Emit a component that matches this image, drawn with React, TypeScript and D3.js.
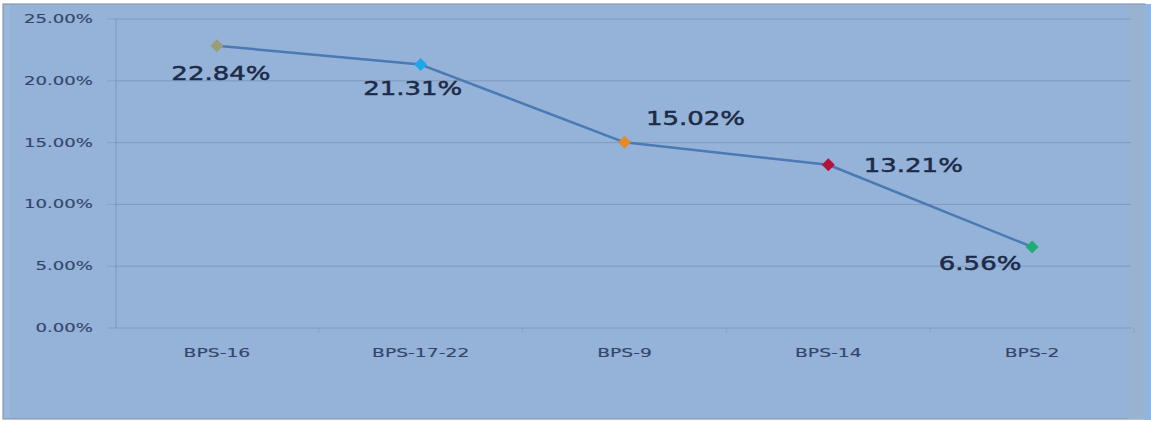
import React from "react";
import * as d3 from "d3";

const categories = ["BPS-16", "BPS-17-22", "BPS-9", "BPS-14", "BPS-2"];
const values = [22.84, 21.31, 15.02, 13.21, 6.56];
const markerColors = ["#9b9c78", "#1fa6ea", "#e48a2a", "#b3123c", "#1fae72"];
const yTicks = [0, 5, 10, 15, 20, 25];
// label placement relative to each point (dx, dy)
const labelOffsets: [number, number][] = [
  [4, 27],
  [-8, 23],
  [71, -25],
  [85, 0],
  [-52, 16],
];

const W = 1151;
const H = 422;
const plot = { left: 115, right: 1134, top: 19, bottom: 328, gridRight: 1131 };

export default function App() {
  const x = d3
    .scalePoint<string>()
    .domain(categories)
    .range([plot.left, plot.right])
    .padding(0.5);
  const step = x.step();
  const y = d3.scaleLinear().domain([0, 25]).range([plot.bottom, plot.top]);
  const line = d3
    .line<number>()
    .x((_, i) => x(categories[i]) as number)
    .y((d) => y(d));

  const fmt = (v: number) => v.toFixed(2) + "%";
  const font = "'DejaVu Sans', Verdana, sans-serif";
  const textColor = "#1d2b48";
  const axisColor = "#33466a";
  const gridColor = "#7d96b8";

  return (
    <div style={{ position: "fixed", left: 0, top: 0, width: W, height: H }}>
      <svg width={W} height={H} style={{ display: "block" }}>
        <rect x={0} y={0} width={W} height={H} fill="#ffffff" />
        <rect x={3} y={4} width={1142} height={415} fill="#95b3d8" stroke="#8c98a8" strokeWidth={1.2} />
        <rect x={1128} y={5} width={17} height={414} fill="#98b2cf" />
        <rect x={1145} y={4} width={6} height={416} fill="#8fb5e4" />
        <rect x={4} y={5} width={6} height={413} fill="#9ab8dc" />

        {/* horizontal gridlines */}
        {yTicks.map((t) => (
          <g key={t}>
            <line
              x1={plot.left}
              x2={plot.gridRight}
              y1={y(t)}
              y2={y(t)}
              stroke={gridColor}
              strokeWidth={1}
              opacity={0.85}
            />
            <line
              x1={plot.left - 8}
              x2={plot.left}
              y1={y(t)}
              y2={y(t)}
              stroke={gridColor}
              strokeWidth={1}
              opacity={0.6}
            />
            <text
              transform={`translate(93,${y(t)}) scale(1.45,1)`}
              textAnchor="end"
              dominantBaseline="central"
              fontFamily={font}
              fontSize={12.5}
              fill={axisColor}
              stroke={axisColor}
              strokeWidth={0.15}
            >
              {fmt(t)}
            </text>
          </g>
        ))}

        {/* vertical axis */}
        <line x1={plot.left + 1} x2={plot.left + 1} y1={plot.top} y2={plot.bottom} stroke={gridColor} strokeWidth={1} />

        {/* category ticks */}
        {categories.map((c) => (
          <line
            key={"t" + c}
            x1={(x(c) as number) + step / 2}
            x2={(x(c) as number) + step / 2}
            y1={plot.bottom}
            y2={plot.bottom + 5}
            stroke={gridColor}
            strokeWidth={1}
            opacity={0.5}
          />
        ))}

        {/* category labels */}
        {categories.map((c) => (
          <text
            key={c}
            transform={`translate(${x(c)},353) scale(1.5,1)`}
            textAnchor="middle"
            dominantBaseline="central"
            fontFamily={font}
            fontSize={12.5}
            fill={axisColor}
            stroke={axisColor}
            strokeWidth={0.15}
          >
            {c}
          </text>
        ))}

        {/* series line */}
        <path d={line(values) ?? ""} fill="none" stroke="#4a79b3" strokeWidth={2.5} strokeLinejoin="round" />

        {/* markers */}
        {values.map((v, i) => {
          const cx = x(categories[i]) as number;
          const cy = y(v);
          const r = 6.5;
          return (
            <path
              key={"m" + i}
              d={`M${cx},${cy - r}L${cx + r},${cy}L${cx},${cy + r}L${cx - r},${cy}Z`}
              fill={markerColors[i]}
            />
          );
        })}

        {/* data labels */}
        {values.map((v, i) => {
          const cx = (x(categories[i]) as number) + labelOffsets[i][0];
          const cy = y(v) + labelOffsets[i][1];
          return (
            <text
              key={"l" + i}
              transform={`translate(${cx},${cy}) scale(1.3,1)`}
              textAnchor="middle"
              dominantBaseline="central"
              fontFamily={font}
              fontSize={20}
              fill={textColor}
              stroke={textColor}
              strokeWidth={0.5}
            >
              {fmt(v)}
            </text>
          );
        })}
      </svg>
    </div>
  );
}
